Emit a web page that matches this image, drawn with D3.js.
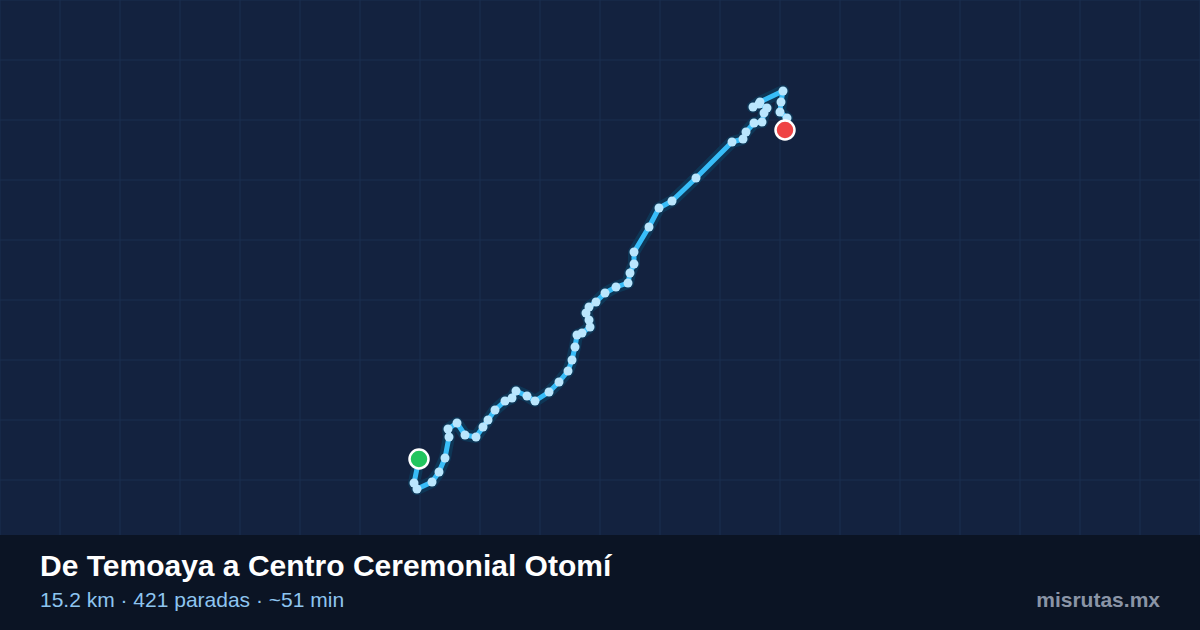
<!DOCTYPE html>
<html><head><meta charset="utf-8">
<script src="https://cdn.jsdelivr.net/npm/d3@7"></script>
<style>body{margin:0;background:#13223f}svg{display:block}</style>
</head><body>
<svg id="map" width="1200" height="630"></svg>
<script>
// route, in map units (0..1200 x 0..630)
var routeX = [419,414,417,432,439,445,449,448,457,465,476,483,488,495,505,512,516,527,535,549,559,568,572,575,577,582,590,589,586,589,596,605,616,628,630,634,634,649,659,672,696,732,743,746,754,762,764,767,759,753,760,783,781,780,787,785];
var routeY = [459,483,489,482,472,458,437,429,423,435,437,427,420,410,401,398,391,396,401,392,382,371,360,347,335,333,327,320,313,307,302,293,287,283,273,264,252,227,208,201,178,142,139,132,123,122,113,108,104,107,102,91,102,112,118,130];
var title = "De Temoaya a Centro Ceremonial Otomí";
var subtitle = "15.2 km · 421 paradas · ~51 min";
var brand = "misrutas.mx";

var W = 1200, H = 630, footerH = 95;
var svg = d3.select("#map");
var x = d3.scaleLinear().domain([0,1200]).range([0,W]);
var y = d3.scaleLinear().domain([0,630]).range([0,H]);

svg.append("rect").attr("width",W).attr("height",H).attr("fill","#13223f");

// grid
var gx = d3.range(0, W+1, 60), gy = d3.range(0, H-footerH, 60);
svg.selectAll(".gx").data(gx).enter().append("line")
  .attr("x1",d=>d).attr("x2",d=>d).attr("y1",0).attr("y2",H-footerH)
  .attr("stroke","#1b2e50").attr("stroke-width",1);
svg.selectAll(".gy").data(gy).enter().append("line")
  .attr("y1",d=>d).attr("y2",d=>d).attr("x1",0).attr("x2",W)
  .attr("stroke","#1b2e50").attr("stroke-width",1);

var pts = routeX.map((d,i)=>[d, routeY[i]]);
var line = d3.line().x(d=>x(d[0])).y(d=>y(d[1]));

svg.append("path").datum(pts).attr("d",line).attr("fill","none")
  .attr("stroke","#0e3656").attr("stroke-width",12)
  .attr("stroke-linejoin","round").attr("stroke-linecap","round");
svg.append("path").datum(pts).attr("d",line).attr("fill","none")
  .attr("stroke","#38bdf8").attr("stroke-width",5)
  .attr("stroke-linejoin","round").attr("stroke-linecap","round");

svg.selectAll(".stop").data(pts.slice(1,-1)).enter().append("circle")
  .attr("cx",d=>x(d[0])).attr("cy",d=>y(d[1])).attr("r",4.5).attr("fill","#bae6fd");

// start / end
var s = pts[0], e = pts[pts.length-1];
svg.append("circle").attr("cx",x(s[0])).attr("cy",y(s[1])).attr("r",9.5)
  .attr("fill","#22c55e").attr("stroke","#fff").attr("stroke-width",2.5);
svg.append("circle").attr("cx",x(e[0])).attr("cy",y(e[1])).attr("r",9.5)
  .attr("fill","#ef4444").attr("stroke","#fff").attr("stroke-width",2.5);

// footer
svg.append("rect").attr("y",H-footerH).attr("width",W).attr("height",footerH).attr("fill","#0b1424");
svg.append("text").attr("x",40).attr("y",576).text(title)
  .style("font-family","Liberation Sans, Arial, sans-serif").style("font-weight","bold")
  .style("font-size","30px").attr("fill","#ffffff");
svg.append("text").attr("x",40).attr("y",607).text(subtitle)
  .style("font-family","Liberation Sans, Arial, sans-serif")
  .style("font-size","21px").attr("fill","#8ec5f0");
svg.append("text").attr("x",1160).attr("y",607).attr("text-anchor","end").text(brand)
  .style("font-family","Liberation Sans, Arial, sans-serif").style("font-weight","bold")
  .style("font-size","21px").attr("fill","#8a94a6");
</script>
</body></html>
